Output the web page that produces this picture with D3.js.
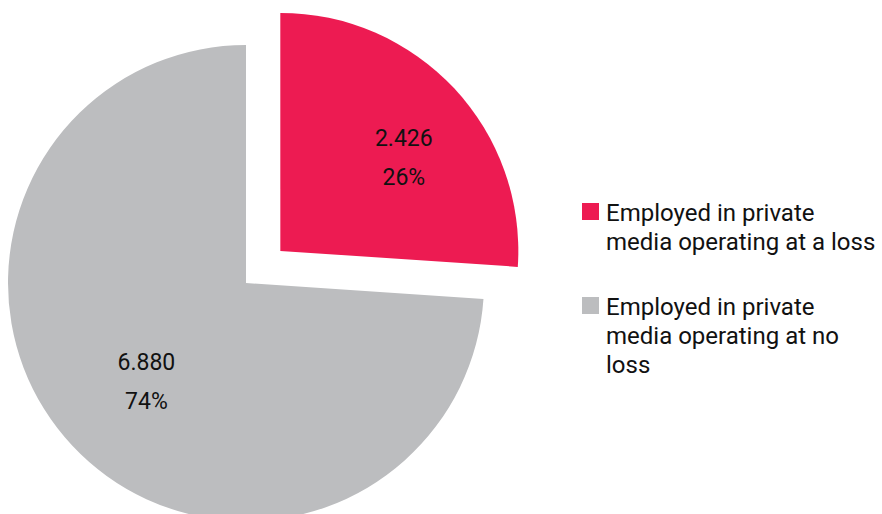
<!DOCTYPE html>
<html>
<head>
<meta charset="utf-8">
<script src="https://cdn.jsdelivr.net/npm/d3@7"></script>
<style>
  html, body { margin: 0; padding: 0; background: #ffffff; }
  svg { display: block; font-family: Roboto, "Noto Sans", sans-serif; }
</style>
</head>
<body>
<svg id="chart" width="882" height="514"></svg>
<script>
// Employment in private media, split by whether the outlet operates at a loss
const categories = [
  "Employed in private media operating at a loss",
  "Employed in private media operating at no loss"
];
const values = [2426, 6880];
const valueLabels = ["2.426", "6.880"];
const legendLines = [
  ["Employed in private", "media operating at a loss"],
  ["Employed in private", "media operating at no", "loss"]
];
const colors = ["#ED1B52", "#BCBDBF"];

const svg = d3.select("#chart");

const cx = 246, cy = 283, radius = 238, explode = 47;

const total = d3.sum(values);
const pie = d3.pie().sort(null).value(d => d)(values);
const arc = d3.arc().innerRadius(0).outerRadius(radius);

const g = svg.append("g").attr("transform", `translate(${cx},${cy})`);

// first slice pulled out along its bisector
const offset = (d, i) => {
  if (i !== 0) return [0, 0];
  const a = (d.startAngle + d.endAngle) / 2;
  return [Math.sin(a) * explode, -Math.cos(a) * explode];
};

const slices = g.selectAll("g.slice")
  .data(pie)
  .join("g")
  .attr("class", "slice")
  .attr("transform", (d, i) => {
    const [ox, oy] = offset(d, i);
    return `translate(${ox},${oy})`;
  });

slices.append("path")
  .attr("d", arc)
  .attr("fill", (d, i) => colors[i]);

// value + percentage labels
const fmtPct = d3.format(".0%");
const labelR = [150, 146];
const labelTurn = [0.148, -0.068];
slices.each(function (d, i) {
  const a = (d.startAngle + d.endAngle) / 2 + labelTurn[i];
  const x = Math.sin(a) * labelR[i];
  const y = -Math.cos(a) * labelR[i];
  const t = d3.select(this).append("text")
    .attr("text-anchor", "middle")
    .attr("font-size", 23)
    .attr("fill", "#111");
  t.append("tspan").attr("x", x).attr("y", y - 19.5).text(valueLabels[i]);
  t.append("tspan").attr("x", x).attr("y", y + 19.5).text(fmtPct(values[i] / total));
});

// legend
const legend = svg.append("g").attr("transform", "translate(582,203)");
const lineH = 28.8;
let yPos = 0;
legendLines.forEach((lines, i) => {
  const item = legend.append("g").attr("transform", `translate(0,${yPos})`);
  item.append("rect").attr("width", 17).attr("height", 17).attr("fill", colors[i]);
  const t = item.append("text").attr("font-size", 24).attr("fill", "#111");
  lines.forEach((ln, j) => {
    t.append("tspan").attr("x", 24).attr("y", 18 + j * lineH).text(ln);
  });
  yPos += 94;
});
</script>
</body>
</html>
